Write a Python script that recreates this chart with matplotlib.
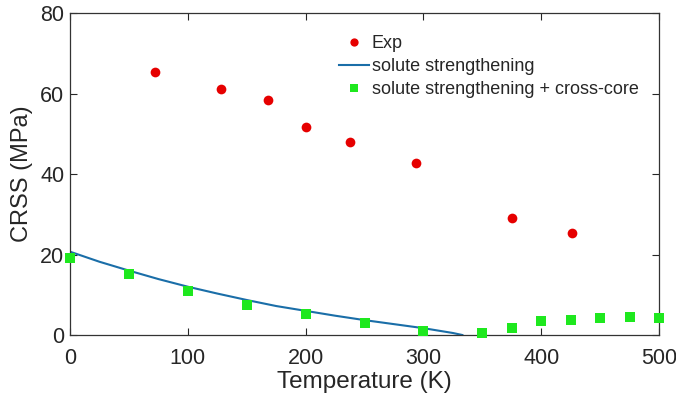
import numpy as np
import matplotlib
matplotlib.use("Agg")
import matplotlib.pyplot as plt

plt.rcParams['font.family'] = ['Liberation Sans', 'DejaVu Sans']

# experimental CRSS
exp_temp = [72, 128, 168, 200, 238, 294, 375, 426]
exp_crss = [65.3, 61.1, 58.4, 51.7, 47.9, 42.7, 29.1, 25.3]

# solute strengthening model curve
ss_temp = [0, 25, 50, 75, 100, 125, 150, 175, 200, 225, 250, 275, 300, 325, 333]
ss_crss = [20.7, 18.2, 16.0, 13.9, 12.0, 10.3, 8.7, 7.2, 6.0, 4.8, 3.7, 2.7, 1.7, 0.5, 0.0]

# solute strengthening + cross-core
cc_temp = [0, 50, 100, 150, 200, 250, 300, 350, 375, 400, 425, 450, 475, 500]
cc_crss = [19.2, 15.1, 10.9, 7.4, 5.2, 3.1, 1.0, 0.4, 1.7, 3.6, 3.8, 4.3, 4.6, 4.3]

txt_col = '#262626'

fig = plt.figure(figsize=(6.76, 4.05), dpi=100)
ax = fig.add_axes([0.1036, 0.1728, 0.8714, 0.7951])

ax.plot(exp_temp, exp_crss, 'o', color='#e60000', markersize=7,
        markeredgewidth=0, label='Exp', clip_on=False, zorder=3)
ax.plot(ss_temp, ss_crss, '-', color='#1a6ea8', linewidth=1.5,
        label='solute strengthening', zorder=2)
ax.plot(cc_temp, cc_crss, 's', color='#1ee81e', markersize=6.5,
        markeredgewidth=0, label='solute strengthening + cross-core',
        clip_on=False, zorder=4)

ax.set_xlim(0, 500)
ax.set_ylim(0, 80)
ax.set_xticks([0, 100, 200, 300, 400, 500])
ax.set_yticks([0, 20, 40, 60, 80])
ax.tick_params(direction='in', top=True, right=True, length=5, width=0.8,
               labelsize=15.5, colors=txt_col)
ax.tick_params(axis='x', pad=9)
ax.tick_params(axis='y', pad=4)
for s in ax.spines.values():
    s.set_color('#333333')
    s.set_linewidth(0.9)

ax.set_xlabel('Temperature (K)', fontsize=17.5, color=txt_col, labelpad=2)
ax.set_ylabel('CRSS (MPa)', fontsize=17, color=txt_col, labelpad=5)

leg = ax.legend(loc='upper left', bbox_to_anchor=(0.445, 0.953), frameon=False,
                fontsize=13, handlelength=1.65, handletextpad=0.15,
                labelspacing=0.33, borderaxespad=0, markerscale=0.85)
for t in leg.get_texts():
    t.set_color(txt_col)

fig.savefig('out.png', dpi=100)
